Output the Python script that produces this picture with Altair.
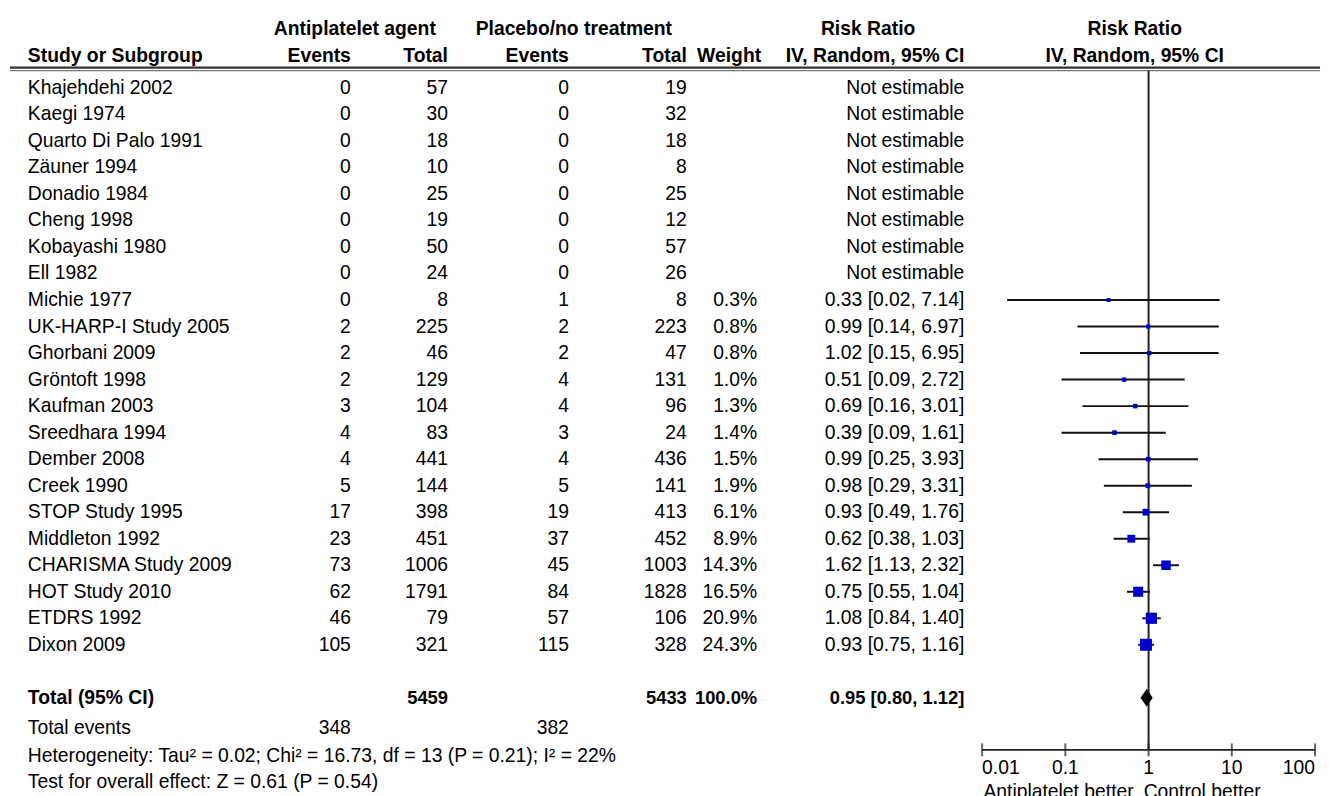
import altair as alt
import pandas as pd

# ---------------- data ----------------
studies = ["Khajehdehi 2002", "Kaegi 1974", "Quarto Di Palo 1991", "Zäuner 1994",
           "Donadio 1984", "Cheng 1998", "Kobayashi 1980", "Ell 1982", "Michie 1977",
           "UK-HARP-I Study 2005", "Ghorbani 2009", "Gröntoft 1998", "Kaufman 2003",
           "Sreedhara 1994", "Dember 2008", "Creek 1990", "STOP Study 1995",
           "Middleton 1992", "CHARISMA Study 2009", "HOT Study 2010", "ETDRS 1992",
           "Dixon 2009"]
ev_anti = [0, 0, 0, 0, 0, 0, 0, 0, 0, 2, 2, 2, 3, 4, 4, 5, 17, 23, 73, 62, 46, 105]
tot_anti = [57, 30, 18, 10, 25, 19, 50, 24, 8, 225, 46, 129, 104, 83, 441, 144, 398, 451, 1006, 1791, 79, 321]
ev_ctrl = [0, 0, 0, 0, 0, 0, 0, 0, 1, 2, 2, 4, 4, 3, 4, 5, 19, 37, 45, 84, 57, 115]
tot_ctrl = [19, 32, 18, 8, 25, 12, 57, 26, 8, 223, 47, 131, 96, 24, 436, 141, 413, 452, 1003, 1828, 106, 328]
weights = [None] * 8 + [0.3, 0.8, 0.8, 1.0, 1.3, 1.4, 1.5, 1.9, 6.1, 8.9, 14.3, 16.5, 20.9, 24.3]
rr = [None] * 8 + [0.33, 0.99, 1.02, 0.51, 0.69, 0.39, 0.99, 0.98, 0.93, 0.62, 1.62, 0.75, 1.08, 0.93]
rr_lo = [None] * 8 + [0.02, 0.14, 0.15, 0.09, 0.16, 0.09, 0.25, 0.29, 0.49, 0.38, 1.13, 0.55, 0.84, 0.75]
rr_hi = [None] * 8 + [7.14, 6.97, 6.95, 2.72, 3.01, 1.61, 3.93, 3.31, 1.76, 1.03, 2.32, 1.04, 1.40, 1.16]

total_anti = 5459
total_ctrl = 5433
total_ev_anti = 348
total_ev_ctrl = 382
total_rr, total_lo, total_hi = 0.95, 0.80, 1.12
heterogeneity = "Heterogeneity: Tau\u00b2 = 0.02; Chi\u00b2 = 16.73, df = 13 (P = 0.21); I\u00b2 = 22%"
overall = "Test for overall effect: Z = 0.61 (P = 0.54)"
tick_values = [0.01, 0.1, 1, 10, 100]
tick_labels = ["0.01", "0.1", "1", "10", "100"]

# ---------------- layout ----------------
W, H = 1314, 780
ROW0_PAGE, ROW_H = 85.0, 26.76


def prow(page_y):
    return (page_y - ROW0_PAGE) / ROW_H


ys = alt.Scale(domain=[prow(8), prow(8 + H)], range=[0, H], nice=False, zero=False)
xs = alt.Scale(type="log", domain=[0.01, 100], range=[981, 1317], nice=False)

BODY = "Liberation Sans"
HEAD = "Liberation Sans"
BS, HS, TS = 19.5, 19.5, 18.5

n = len(studies)
df = pd.DataFrame({
    "row": list(range(n)),
    "name": studies,
    "ev1": [str(v) for v in ev_anti],
    "tot1": [str(v) for v in tot_anti],
    "ev2": [str(v) for v in ev_ctrl],
    "tot2": [str(v) for v in tot_ctrl],
    "wtxt": ["" if w is None else f"{w:.1f}%" for w in weights],
    "rrtxt": ["Not estimable" if r is None else f"{r:.2f} [{l:.2f}, {h:.2f}]"
              for r, l, h in zip(rr, rr_lo, rr_hi)],
})
est = pd.DataFrame({
    "row": [i for i in range(n) if rr[i] is not None],
    "rr": [v for v in rr if v is not None],
    "lo": [v for v in rr_lo if v is not None],
    "hi": [v for v in rr_hi if v is not None],
    "w": [v for v in weights if v is not None],
})

TOTAL_ROW = n + 1
EVENTS_ROW = prow(731)
HET_ROW = prow(759)
TEST_ROW = prow(785)
AXIS_ROW = prow(753)
TICKLAB_ROW = prow(771)
BETTER_ROW = prow(796)
H1_ROW = prow(26)
H2_ROW = prow(53)
LINE_ROWS = [prow(64.5), prow(67.5)]


def Y(field="row"):
    return alt.Y(f"{field}:Q", scale=ys, axis=None)


def text_layer(data, field, x, align, font=BODY, size=BS, bold=False):
    return alt.Chart(data).mark_text(
        align=align, baseline="middle", font=font, fontSize=size,
        fontWeight="bold" if bold else "normal", color="black"
    ).encode(x=alt.value(x), y=Y(), text=f"{field}:N")


layers = []

# header lines (double)
hl = pd.DataFrame({"row": LINE_ROWS})
layers.append(alt.Chart(hl.iloc[[0]]).mark_rule(color="#333", strokeWidth=2.2)
              .encode(y=Y(), x=alt.value(0), x2=alt.value(1322)))
layers.append(alt.Chart(hl.iloc[[1]]).mark_rule(color="#777", strokeWidth=1.2)
              .encode(y=Y(), x=alt.value(0), x2=alt.value(1322)))

# header texts
h1 = pd.DataFrame({"row": [H1_ROW], "a": ["Antiplatelet agent"], "b": ["Placebo/no treatment"],
                   "c": ["Risk Ratio"]})
h2 = pd.DataFrame({"row": [H2_ROW], "s": ["Study or Subgroup"], "e": ["Events"], "t": ["Total"],
                   "w": ["Weight"], "m": ["IV, Random, 95% CI"]})
layers += [
    text_layer(h1, "a", 348, "center", HEAD, HS, True),
    text_layer(h1, "b", 569, "center", HEAD, HS, True),
    text_layer(h1, "c", 866, "center", HEAD, HS, True),
    text_layer(h1, "c", 1135, "center", HEAD, HS, True),
    text_layer(h2, "s", 18, "left", HEAD, HS, True),
    text_layer(h2, "e", 344, "right", HEAD, HS, True),
    text_layer(h2, "t", 442, "right", HEAD, HS, True),
    text_layer(h2, "e", 564, "right", HEAD, HS, True),
    text_layer(h2, "t", 683, "right", HEAD, HS, True),
    text_layer(h2, "w", 758, "right", HEAD, HS, True),
    text_layer(h2, "m", 963, "right", HEAD, HS, True),
    text_layer(h2, "m", 1135, "center", HEAD, HS, True),
]

# study rows
layers += [
    text_layer(df, "name", 18, "left"),
    text_layer(df, "ev1", 344, "right"),
    text_layer(df, "tot1", 442, "right"),
    text_layer(df, "ev2", 564, "right"),
    text_layer(df, "tot2", 683, "right"),
    text_layer(df, "wtxt", 754, "right"),
    text_layer(df, "rrtxt", 963, "right"),
]

# total row
tot = pd.DataFrame({"row": [TOTAL_ROW], "name": ["Total (95% CI)"], "t1": [str(total_anti)],
                    "t2": [str(total_ctrl)], "w": ["100.0%"],
                    "r": [f"{total_rr:.2f} [{total_lo:.2f}, {total_hi:.2f}]"]})
layers += [
    text_layer(tot, "name", 18, "left", HEAD, HS, True),
    text_layer(tot, "t1", 442, "right", BODY, TS, True),
    text_layer(tot, "t2", 683, "right", BODY, TS, True),
    text_layer(tot, "w", 754, "right", BODY, TS, True),
    text_layer(tot, "r", 963, "right", BODY, TS, True),
]
evr = pd.DataFrame({"row": [EVENTS_ROW], "name": ["Total events"], "a": [str(total_ev_anti)],
                    "b": [str(total_ev_ctrl)]})
foot = pd.DataFrame({"row": [HET_ROW, TEST_ROW], "name": [heterogeneity, overall]})
layers += [
    text_layer(evr, "name", 18, "left"),
    text_layer(evr, "a", 344, "right"),
    text_layer(evr, "b", 564, "right"),
    text_layer(foot, "name", 18, "left"),
]

# forest plot: reference line at 1
ref = pd.DataFrame({"x": [1], "row": [LINE_ROWS[1]], "row2": [AXIS_ROW]})
layers.append(alt.Chart(ref).mark_rule(color="#222", strokeWidth=2).encode(
    x=alt.X("x:Q", scale=xs, axis=None), y=Y(), y2="row2:Q"))

# CI lines
layers.append(alt.Chart(est).mark_rule(color="#111", strokeWidth=2).encode(
    x=alt.X("lo:Q", scale=xs, axis=None), x2="hi:Q", y=Y()))
# squares
layers.append(alt.Chart(est).mark_square(color="#0000cc", opacity=1).encode(
    x=alt.X("rr:Q", scale=xs, axis=None), y=Y(),
    size=alt.Size("w:Q", scale=alt.Scale(domain=[0, 25], range=[14, 150]), legend=None)))

# diamond for total
half = 0.34
dia = pd.DataFrame({"x": [total_lo, total_rr, total_hi],
                    "row": [TOTAL_ROW, TOTAL_ROW - half, TOTAL_ROW],
                    "row2": [TOTAL_ROW, TOTAL_ROW + half, TOTAL_ROW]})
layers.append(alt.Chart(dia).mark_area(color="black", opacity=1).encode(
    x=alt.X("x:Q", scale=xs, axis=None), y=Y(), y2="row2:Q"))

# axis
ax = pd.DataFrame({"x": [tick_values[0]], "x2": [tick_values[-1]], "row": [AXIS_ROW]})
layers.append(alt.Chart(ax).mark_rule(color="#222", strokeWidth=2).encode(
    x=alt.X("x:Q", scale=xs, axis=None), x2="x2:Q", y=Y()))
tk = pd.DataFrame({"x": tick_values, "label": tick_labels, "row": [AXIS_ROW] * len(tick_values),
                   "lrow": [TICKLAB_ROW] * len(tick_values), "i": list(range(len(tick_values)))})
layers.append(alt.Chart(tk).mark_tick(orient="vertical", size=13, thickness=2, color="#222").encode(
    x=alt.X("x:Q", scale=xs, axis=None), y=Y()))
for cond, align in [("datum.i == 0", "left"),
                    (f"datum.i > 0 && datum.i < {len(tick_values) - 1}", "center"),
                    (f"datum.i == {len(tick_values) - 1}", "right")]:
    layers.append(alt.Chart(tk).transform_filter(cond).mark_text(
        align=align, baseline="middle", font=BODY, fontSize=BS, color="black").encode(
        x=alt.X("x:Q", scale=xs, axis=None), y=Y("lrow"), text="label:N"))

better = pd.DataFrame({"row": [BETTER_ROW], "a": ["Antiplatelet better"], "b": ["Control better"]})
layers += [
    text_layer(better, "a", 1134, "right"),
    text_layer(better, "b", 1144, "left"),
]

chart = alt.layer(*layers).properties(width=W, height=H, padding=0).configure_view(stroke=None)
chart.save("out.html", embed_options={"renderer": "svg", "actions": False})
